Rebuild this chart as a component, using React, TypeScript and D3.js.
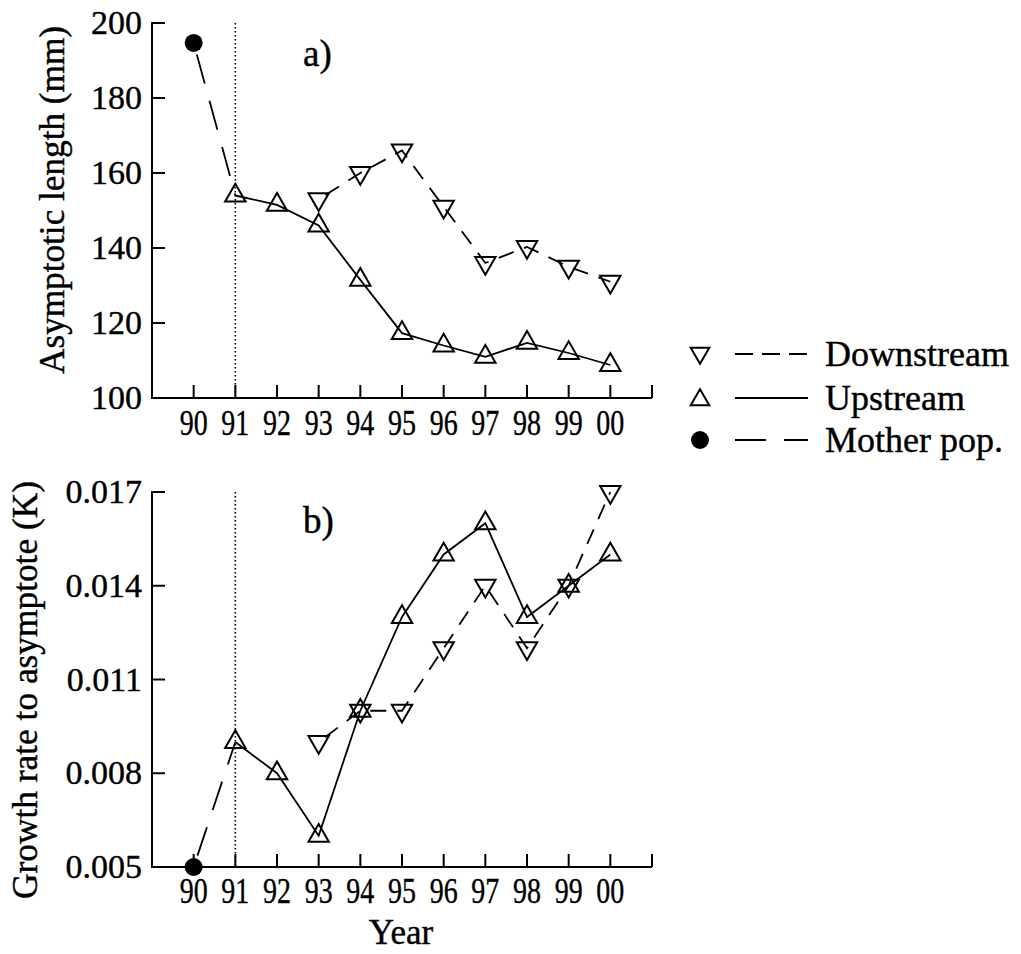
import React, { useRef, useEffect } from 'react';
import * as d3 from 'd3';

// year codes (100 = "00")
const tickYears = [90, 91, 92, 93, 94, 95, 96, 97, 98, 99, 100];
const tickLabels = ['90', '91', '92', '93', '94', '95', '96', '97', '98', '99', '00'];

const upYears = [91, 92, 93, 94, 95, 96, 97, 98, 99, 100];
const downYears = [93, 94, 95, 96, 97, 98, 99, 100];
const motherYear = 90;

const lengthUpstream = [154, 151.5, 146, 131.5, 117.3, 114, 111, 114.7, 112, 108.8];
const lengthDownstream = [153, 160, 166, 151, 136, 140.3, 135, 131];
const lengthMother = 194.7;

const growthUpstream = [0.009, 0.008, 0.006, 0.010, 0.013, 0.015, 0.016, 0.013, 0.014, 0.015];
const growthDownstream = [0.009, 0.010, 0.010, 0.012, 0.014, 0.012, 0.014, 0.017];
const growthMother = 0.005;

const lengthTicks = [100, 120, 140, 160, 180, 200];
const growthTicks = [0.005, 0.008, 0.011, 0.014, 0.017];

const FONT = '"Liberation Serif", "Times New Roman", serif';

function App() {
  const svgRef = useRef<SVGSVGElement>(null);

  useEffect(() => {
    const width = 1021;
    const height = 954;
    const svg = d3.select(svgRef.current);
    svg.selectAll('*').remove();
    svg.attr('width', width).attr('height', height).attr('viewBox', [0, 0, width, height].join(' '));

    const x = d3.scaleLinear().domain([89, 101]).range([152, 652]);
    const triUp = d3.symbol(d3.symbolTriangle, 180);

    const panels = [
      {
        y: d3.scaleLinear().domain([100, 200]).range([398, 23]),
        ticks: lengthTicks,
        fmt: d3.format('d'),
        up: lengthUpstream,
        down: lengthDownstream,
        mother: lengthMother,
        tag: 'a)',
        tagY: 66,
        title: 'Asymptotic length (mm)',
        titleX: 64,
        titleY: 200,
        titleLen: 348,
        labelY: 435,
      },
      {
        y: d3.scaleLinear().domain([0.005, 0.017]).range([867, 492]),
        ticks: growthTicks,
        fmt: d3.format('.3f'),
        up: growthUpstream,
        down: growthDownstream,
        mother: growthMother,
        tag: 'b)',
        tagY: 533,
        title: 'Growth rate to asymptote (K)',
        titleX: 37,
        titleY: 690,
        titleLen: 418,
        labelY: 903,
      },
    ];

    const txt = (sel: any, size: number) =>
      sel.attr('font-family', FONT).attr('font-size', size)
        .attr('fill', '#000').attr('stroke', '#000').attr('stroke-width', 0.4);

    panels.forEach(p => {
      const g = svg.append('g');
      const [y0, y1] = p.y.range();

      // dotted line at 91
      g.append('line')
        .attr('x1', x(91)).attr('x2', x(91))
        .attr('y1', y1).attr('y2', y0)
        .attr('stroke', '#000').attr('stroke-width', 1.6)
        .attr('stroke-dasharray', '1.6,2.4');

      // axes
      g.append('path')
        .attr('d', `M${x(89) + 13},${y1}H${x(89)}V${y0}H${x(101)}`)
        .attr('fill', 'none').attr('stroke', '#000').attr('stroke-width', 2);

      g.append('g').selectAll('line')
        .data(p.ticks)
        .join('line')
        .attr('x1', x(89)).attr('x2', x(89) + 13)
        .attr('y1', d => p.y(d)).attr('y2', d => p.y(d))
        .attr('stroke', '#000').attr('stroke-width', 2);

      g.append('g').selectAll('line')
        .data([...tickYears, 101])
        .join('line')
        .attr('x1', d => x(d)).attr('x2', d => x(d))
        .attr('y1', y0).attr('y2', y0 - 13)
        .attr('stroke', '#000').attr('stroke-width', 2);

      txt(g.append('g').selectAll('text')
        .data(p.ticks)
        .join('text')
        .attr('x', 142)
        .attr('y', d => p.y(d) + 11)
        .attr('text-anchor', 'end'), 34)
        .text(d => p.fmt(d));

      txt(g.append('g').selectAll('text')
        .data(tickYears)
        .join('text')
        .attr('x', d => x(d) - 14)
        .attr('y', p.labelY)
        .attr('textLength', 28)
        .attr('lengthAdjust', 'spacingAndGlyphs'), 36)
        .text((d, i) => tickLabels[i]);

      txt(g.append('text')
        .attr('transform', `translate(${p.titleX},${p.titleY}) rotate(-90)`)
        .attr('text-anchor', 'middle')
        .attr('textLength', p.titleLen)
        .attr('lengthAdjust', 'spacingAndGlyphs'), 35)
        .text(p.title);

      txt(g.append('text')
        .attr('x', 303).attr('y', p.tagY), 37)
        .text(p.tag);

      // mother pop connector
      g.append('line')
        .attr('x1', x(motherYear)).attr('y1', p.y(p.mother))
        .attr('x2', x(upYears[0])).attr('y2', p.y(p.up[0]))
        .attr('stroke', '#000').attr('stroke-width', 1.8)
        .attr('stroke-dasharray', '30,18')
        .attr('stroke-dashoffset', -12);

      const line = d3.line<number>();

      g.append('path')
        .attr('d', line(downYears.map((yr, i) => [x(yr), p.y(p.down[i])])))
        .attr('fill', 'none').attr('stroke', '#000').attr('stroke-width', 1.8)
        .attr('stroke-dasharray', '16,11')
        .attr('stroke-dashoffset', -8);

      g.append('path')
        .attr('d', line(upYears.map((yr, i) => [x(yr), p.y(p.up[i])])))
        .attr('fill', 'none').attr('stroke', '#000').attr('stroke-width', 1.8);

      g.append('g').selectAll('path')
        .data(downYears)
        .join('path')
        .attr('d', triUp)
        .attr('transform', (yr, i) => `translate(${x(yr)},${p.y(p.down[i])}) rotate(180)`)
        .attr('fill', 'none').attr('stroke', '#000').attr('stroke-width', 2);

      g.append('g').selectAll('path')
        .data(upYears)
        .join('path')
        .attr('d', triUp)
        .attr('transform', (yr, i) => `translate(${x(yr)},${p.y(p.up[i])})`)
        .attr('fill', 'none').attr('stroke', '#000').attr('stroke-width', 2);

      g.append('circle')
        .attr('cx', x(motherYear)).attr('cy', p.y(p.mother))
        .attr('r', 9).attr('fill', '#000');
    });

    txt(svg.append('text')
      .attr('x', 401).attr('y', 944)
      .attr('text-anchor', 'middle'), 35)
      .text('Year');

    // legend
    const legendItems = [
      { name: 'Downstream', sym: 'down', dash: '18,9', y: 354 },
      { name: 'Upstream', sym: 'up', dash: null, y: 398 },
      { name: 'Mother pop.', sym: 'dot', dash: '31,18', y: 440 },
    ];
    const legend = svg.append('g');
    legendItems.forEach(it => {
      if (it.sym === 'dot') {
        legend.append('circle').attr('cx', 700).attr('cy', it.y).attr('r', 9).attr('fill', '#000');
      } else {
        legend.append('path')
          .attr('d', d3.symbol(d3.symbolTriangle, 150))
          .attr('transform', `translate(700,${it.y + (it.sym === 'up' ? 2 : -1)})${it.sym === 'down' ? ' rotate(180)' : ''}`)
          .attr('fill', 'none').attr('stroke', '#000').attr('stroke-width', 2);
      }
      legend.append('line')
        .attr('x1', 735).attr('x2', 808)
        .attr('y1', it.y).attr('y2', it.y)
        .attr('stroke', '#000').attr('stroke-width', 1.8)
        .attr('stroke-dasharray', it.dash ?? null);
      txt(legend.append('text')
        .attr('x', 825).attr('y', it.y + 12), 36)
        .text(it.name);
    });
  }, []);

  return (
    <div style={{ position: 'absolute', left: 0, top: 0 }}>
      <svg ref={svgRef} style={{ display: 'block', background: '#fff' }}></svg>
    </div>
  );
}

export default App;
